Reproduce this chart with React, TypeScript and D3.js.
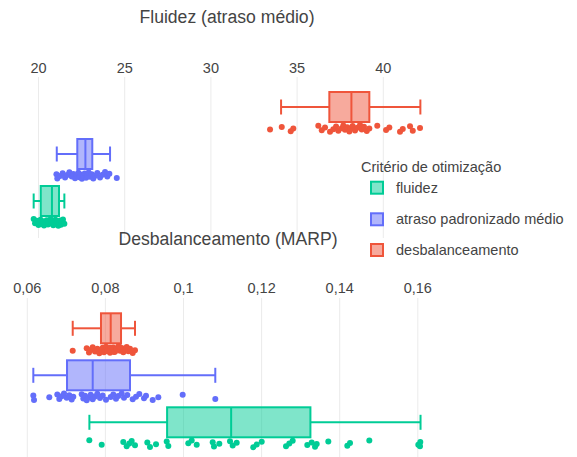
import React from "react";
import * as d3 from "d3";

// ---------- data ----------
const categories = ["fluidez", "atraso padronizado médio", "desbalanceamento"];
const colors = ["#00cc96", "#636efa", "#EF553B"];

// Top panel: Fluidez (atraso médio) — [lowerWhisker, q1, median, q3, upperWhisker]
const topStatsFluidez = [19.72, 20.13, 20.78, 21.19, 21.5];
const topStatsAtraso = [21.06, 22.25, 22.72, 23.12, 24.15];
const topStatsDesbal = [34.07, 36.87, 38.15, 39.19, 42.15];

const topPtsFluidez = [19.72, 19.8, 19.9, 20.0, 20.05, 20.12, 20.18, 20.25, 20.32, 20.4, 20.48, 20.55, 20.62, 20.7, 20.75, 20.8, 20.86, 20.92, 20.98, 21.05, 21.1, 21.15, 21.2, 21.25, 21.3, 21.36, 21.42, 21.5];
const topPtsAtraso = [21.04, 21.09, 21.25, 21.4, 21.54, 21.67, 21.79, 21.93, 22.02, 22.12, 22.22, 22.31, 22.37, 22.45, 22.52, 22.6, 22.68, 22.76, 22.83, 22.91, 22.99, 23.09, 23.18, 23.28, 23.41, 23.57, 23.72, 23.86, 23.99, 24.11, 24.54];
const topPtsDesbal = [33.43, 34.11, 34.63, 34.78, 36.23, 36.43, 36.62, 36.91, 37.1, 37.26, 37.39, 37.59, 37.68, 37.78, 37.91, 38.03, 38.11, 38.22, 38.36, 38.49, 38.65, 38.75, 38.88, 39.04, 39.19, 39.65, 40.16, 40.35, 40.97, 41.13, 41.55, 41.71, 42.13];

// Bottom panel: Desbalanceamento (MARP)
const botStatsFluidez = [0.0759, 0.0958, 0.1122, 0.1325, 0.1607];
const botStatsAtraso = [0.06154, 0.07017, 0.07675, 0.0863, 0.10814];
const botStatsDesbal = [0.07163, 0.07887, 0.08136, 0.084, 0.08758];

const botPtsFluidez = [0.07588, 0.07905, 0.08458, 0.08545, 0.08612, 0.08673, 0.08758, 0.09073, 0.09142, 0.09296, 0.0957, 0.09611, 0.10123, 0.1021, 0.10338, 0.10748, 0.10781, 0.10917, 0.11191, 0.1126, 0.11362, 0.11787, 0.11874, 0.12003, 0.12625, 0.12709, 0.12796, 0.1317, 0.13283, 0.13368, 0.13411, 0.13708, 0.14195, 0.14264, 0.14758, 0.16013, 0.16064, 0.16056];
const botPtsAtraso = [0.06154, 0.06172, 0.06563, 0.06768, 0.06819, 0.06881, 0.0694, 0.07009, 0.07076, 0.07137, 0.07178, 0.07393, 0.07434, 0.07478, 0.07521, 0.07562, 0.07624, 0.07675, 0.07734, 0.07793, 0.07862, 0.07931, 0.08015, 0.08136, 0.08202, 0.08271, 0.0833, 0.08417, 0.08476, 0.08561, 0.08699, 0.08784, 0.08868, 0.08989, 0.0904, 0.09211, 0.09355, 0.09979, 0.10814];
const botPtsDesbal = [0.07163, 0.07521, 0.0758, 0.07631, 0.07674, 0.07734, 0.07793, 0.07844, 0.07887, 0.07931, 0.07964, 0.0799, 0.08015, 0.08049, 0.08085, 0.08118, 0.08161, 0.08202, 0.08246, 0.08289, 0.0833, 0.08374, 0.08417, 0.08458, 0.08502, 0.08545, 0.08586, 0.0863, 0.08699, 0.08758, 0.0812, 0.0822, 0.0829, 0.0836, 0.0805];

const topTicks = [20, 25, 30, 35, 40];
const botTicks = [0.06, 0.08, 0.1, 0.12, 0.14, 0.16];

const topTitle = "Fluidez (atraso médio)";
const botTitle = "Desbalanceamento (MARP)";
const legendTitle = "Critério de otimização";

// ---------- layout ----------
const W = 577;
const H = 457;
const FONT = "'Liberation Sans', Arial, sans-serif";
const TEXT = "#444";
const GRID = "#ebebeb";
const BOX_H = 30;
const CAP_H = 15;
const PT_OFF = 21.5;
const JIT = 3.5;
const FS = 14.5;
const TFS = 17.6;

const jitter = (i: number) => (((i * 0.6180339887) % 1) - 0.5) * 2 * JIT;

type PanelProps = {
  x: d3.ScaleLinear<number, number>;
  y: d3.ScalePoint<string>;
  stats: number[][];
  pts: number[][];
  ticks: number[];
  fmt: (v: number) => string;
  gridTop: number;
  gridBottom: number;
  labelY: number;
};

function Panel({ x, y, stats, pts, ticks, fmt, gridTop, gridBottom, labelY }: PanelProps) {
  return (
    <g>
      {ticks.map((t) => (
        <g key={t}>
          <line x1={x(t)} x2={x(t)} y1={gridTop} y2={gridBottom} stroke={GRID} strokeWidth={1} />
          <text x={x(t)} y={labelY} textAnchor="middle" fontSize={FS} fill={TEXT} fontFamily={FONT}>
            {fmt(t)}
          </text>
        </g>
      ))}
      {categories.map((c, ci) => {
        const [lo, q1, med, q3, hi] = stats[ci];
        const cy = y(c) as number;
        const col = colors[ci];
        return (
          <g key={c}>
            <line x1={x(lo)} x2={x(q1)} y1={cy} y2={cy} stroke={col} strokeWidth={2} />
            <line x1={x(q3)} x2={x(hi)} y1={cy} y2={cy} stroke={col} strokeWidth={2} />
            <line x1={x(lo)} x2={x(lo)} y1={cy - CAP_H / 2} y2={cy + CAP_H / 2} stroke={col} strokeWidth={2} />
            <line x1={x(hi)} x2={x(hi)} y1={cy - CAP_H / 2} y2={cy + CAP_H / 2} stroke={col} strokeWidth={2} />
            <rect
              x={x(q1)}
              y={cy - BOX_H / 2}
              width={x(q3) - x(q1)}
              height={BOX_H}
              fill={col}
              fillOpacity={0.5}
              stroke={col}
              strokeWidth={2}
            />
            <line x1={x(med)} x2={x(med)} y1={cy - BOX_H / 2} y2={cy + BOX_H / 2} stroke={col} strokeWidth={2} />
            {pts[ci].map((v, i) => (
              <circle key={i} cx={x(v)} cy={cy + PT_OFF + jitter(i + ci * 7)} r={3} fill={col} />
            ))}
          </g>
        );
      })}
    </g>
  );
}

export default function App() {
  const topX = d3.scaleLinear().domain([20, 40]).range([38.5, 383.3]);
  const botX = d3.scaleLinear().domain([0.06, 0.16]).range([27.3, 417.8]);
  const order = [categories[2], categories[1], categories[0]];
  const topY = d3.scalePoint<string>().domain(order).range([107, 201]);
  const botY = d3.scalePoint<string>().domain(order).range([328.3, 422.3]);

  const fmtTop = (v: number) => String(v);
  const fmtBot = (v: number) => d3.format("~g")(v).replace(".", ",");

  const legendRows = [192.7, 224.3, 255];

  return (
    <svg
      width={W}
      height={H}
      style={{ position: "absolute", left: 0, top: 0, background: "#fff" }}
      fontFamily={FONT}
    >
      <rect width={W} height={H} fill="#fff" />
      <Panel
        x={topX}
        y={topY}
        stats={[topStatsFluidez, topStatsAtraso, topStatsDesbal]}
        pts={[topPtsFluidez, topPtsAtraso, topPtsDesbal]}
        ticks={topTicks}
        fmt={fmtTop}
        gridTop={77}
        gridBottom={238}
        labelY={72.5}
      />
      <Panel
        x={botX}
        y={botY}
        stats={[botStatsFluidez, botStatsAtraso, botStatsDesbal]}
        pts={[botPtsFluidez, botPtsAtraso, botPtsDesbal]}
        ticks={botTicks}
        fmt={fmtBot}
        gridTop={298}
        gridBottom={H}
        labelY={292.5}
      />
      <text x={227} y={23} textAnchor="middle" fontSize={TFS} fill={TEXT}>
        {topTitle}
      </text>
      <text x={228} y={245} textAnchor="middle" fontSize={TFS} fill={TEXT}>
        {botTitle}
      </text>
      <g>
        <text x={361} y={171.5} fontSize={FS} fill={TEXT}>
          {legendTitle}
        </text>
        {categories.map((c, i) => (
          <g key={c}>
            <rect
              x={371}
              y={legendRows[i] - 11}
              width={12}
              height={12}
              fill={colors[i]}
              fillOpacity={0.5}
              stroke={colors[i]}
              strokeWidth={2}
            />
            <text x={396} y={legendRows[i]} fontSize={FS} fill={TEXT}>
              {c}
            </text>
          </g>
        ))}
      </g>
    </svg>
  );
}
